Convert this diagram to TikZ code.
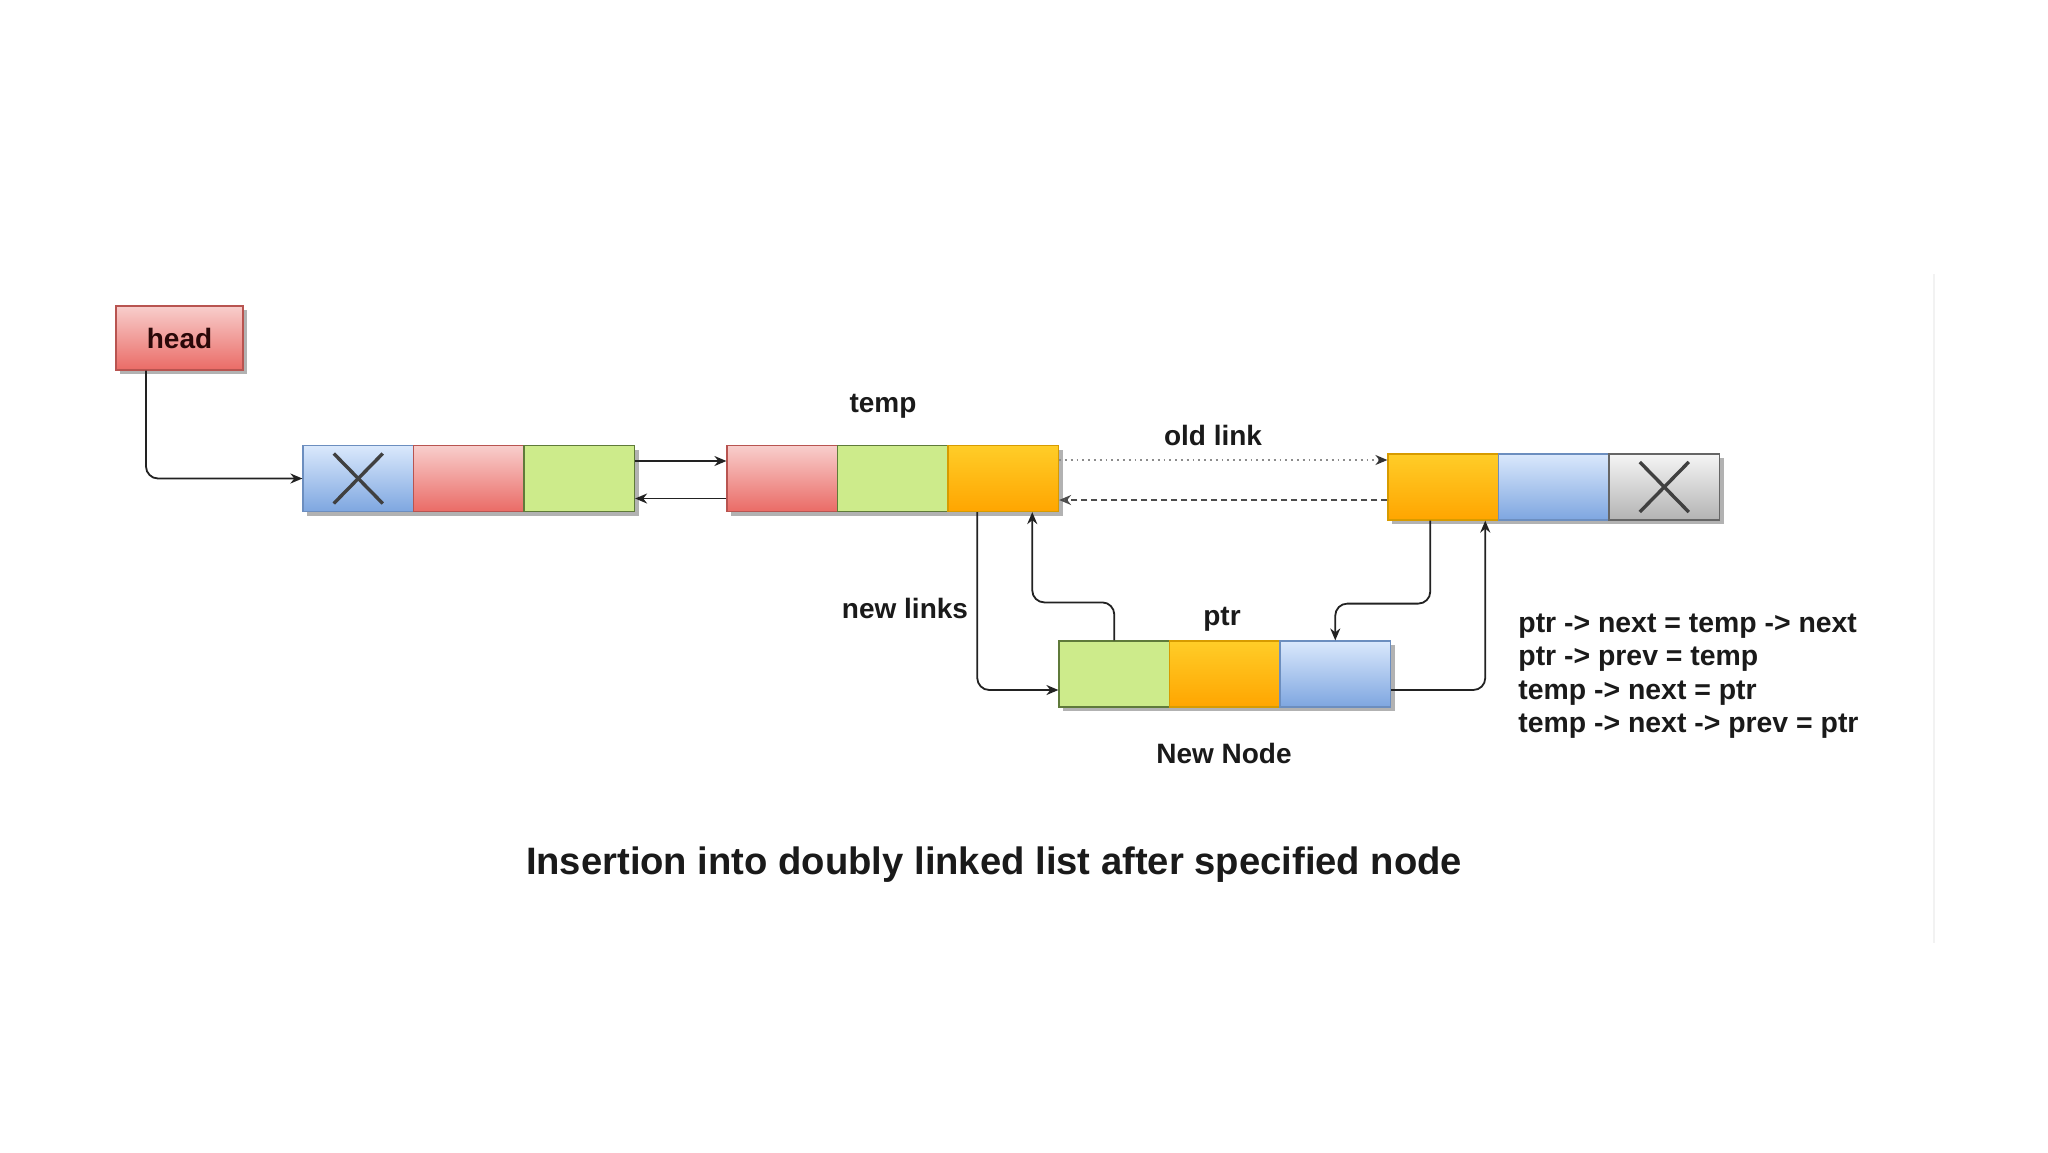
\documentclass[tikz,border=0pt]{standalone}
\usepackage{fontspec}
\setmainfont{Liberation Sans}
\usetikzlibrary{arrows.meta,shadows,calc}
\definecolor{txt}{HTML}{1A1A1A}
\definecolor{lnk}{HTML}{222222}
\definecolor{bluetop}{HTML}{DAE8FC}\definecolor{bluebot}{HTML}{7EA6E0}\definecolor{blueln}{HTML}{6C8EBF}
\definecolor{redtop}{HTML}{F8CECC}\definecolor{redbot}{HTML}{EA6B66}\definecolor{redln}{HTML}{B85450}
\definecolor{grn}{HTML}{CDEB8B}\definecolor{grnln}{HTML}{5F7A3A}
\definecolor{ortop}{HTML}{FFCD28}\definecolor{orbot}{HTML}{FFA500}\definecolor{orln}{HTML}{D79B00}
\definecolor{grtop}{HTML}{F5F5F5}\definecolor{grbot}{HTML}{B3B3B3}\definecolor{grln}{HTML}{666666}
\definecolor{headtxt}{HTML}{2A0808}
\tikzset{
  cell/.style={minimum width=55.25pt, minimum height=33pt, inner sep=0pt, draw, line width=0.6pt,
    drop shadow={shadow xshift=2pt, shadow yshift=-2pt, opacity=0.3, fill=black}},
  bluecell/.style={cell, draw=blueln, top color=bluetop, bottom color=bluebot},
  redcell/.style={cell, draw=redln, top color=redtop, bottom color=redbot},
  grncell/.style={cell, draw=grnln, fill=grn},
  orcell/.style={cell, draw=orln, top color=ortop, bottom color=orbot},
  grcell/.style={cell, draw=grln, top color=grtop, bottom color=grbot},
  xmark/.style={line width=1.7pt, draw=black!75},
  lbl/.style={font=\bfseries\fontsize{14}{16.5}\selectfont, text=txt, inner sep=0pt},
  link/.style={draw=lnk, line width=0.9pt, rounded corners=6pt, -{Stealth[length=6pt,width=5pt]}},
}
\begin{document}
\begin{tikzpicture}[x=0.5pt,y=-0.5pt]
\useasboundingbox (0,0) rectangle (2048,1152);
\fill[white] (0,0) rectangle (2048,1152);
\draw[black!5, line width=1pt] (1934,274) -- (1934,943);

% head
\node[redcell, minimum width=63.5pt, minimum height=32pt, font=\bfseries\fontsize{14}{16}\selectfont, text=headtxt] (head) at (179.5,338) {head};

% list A
\node[bluecell] (a0) at (358.25,478.5) {};
\node[redcell] (a1) at (468.75,478.5) {};
\node[grncell] (a2) at (579.25,478.5) {};
% list B (temp)
\node[redcell] (b0) at (782.25,478.5) {};
\node[grncell] (b1) at (892.75,478.5) {};
\node[orcell] (b2) at (1003.25,478.5) {};
% list C
\node[orcell] (c0) at (1443.25,487) {};
\node[bluecell] (c1) at (1553.75,487) {};
\node[grcell] (c2) at (1664.25,487) {};
% new node D (ptr)
\node[grncell] (d0) at (1114.25,674) {};
\node[orcell] (d1) at (1224.75,674) {};
\node[bluecell] (d2) at (1335.25,674) {};

% X marks
\draw[xmark] ([shift={(-12.25pt,12.5pt)}]a0.center) -- ([shift={(12.25pt,-12.5pt)}]a0.center);
\draw[xmark] ([shift={(-12.25pt,-12.5pt)}]a0.center) -- ([shift={(12.25pt,12.5pt)}]a0.center);
\draw[xmark] ([shift={(-12.25pt,12.5pt)}]c2.center) -- ([shift={(12.25pt,-12.5pt)}]c2.center);
\draw[xmark] ([shift={(-12.25pt,-12.5pt)}]c2.center) -- ([shift={(12.25pt,12.5pt)}]c2.center);

% labels
\node[lbl] (ltemp) at (883,406) {temp};
\node[lbl] (lold) at (1213,435) {old link};
\node[lbl] (lnew) at (905,608) {new links};
\node[lbl] (lptr) at (1222,619) {ptr};
\node[lbl] (lnn) at (1224,753) {New Node};
\node[lbl, font=\bfseries\fontsize{14.2}{16.7}\selectfont, anchor=west, align=left] (code) at (1518,676)
  {ptr -> next = temp -> next\\ptr -> prev = temp\\temp -> next = ptr\\temp -> next -> prev = ptr};
\node[font=\bfseries\fontsize{19.1}{23}\selectfont, text=txt, inner sep=0pt] (title) at (994,865)
  {Insertion into doubly linked list after specified node};

% connectors
\draw[link] ([xshift=-16.75pt]head.south) |- (a0.west);
\draw[link] ([yshift=8.75pt]a2.east) -- ([yshift=8.75pt]b0.west);
\draw[link] ([yshift=-10pt]b0.west) -- ([yshift=-10pt]a2.east);
\draw[draw=black!45, line width=0.9pt, dotted, -{Stealth[length=6pt,width=5pt,black!80]}]
  ([yshift=9.25pt]b2.east) -- ([yshift=9.25pt]b2.east -| c0.west);
\draw[draw=black!70, line width=0.9pt, dashed, dash pattern=on 3pt off 2pt, -{Stealth[length=6pt,width=5pt,open]}]
  ([yshift=-10.75pt]b2.east -| c0.west) -- ([yshift=-10.75pt]b2.east);
\draw[link] ([xshift=-13pt]b2.south) |- ([yshift=-8pt]d0.west);
\draw[link] (d0.north) -- ++(0,-38) -| ([xshift=14.5pt]b2.south);
\draw[link] ([xshift=-6.5pt]c0.south) -- ++(0,83) -| (d2.north);
\draw[link] ([yshift=-8pt]d2.east) -| ([xshift=21pt]c0.south);
\end{tikzpicture}
\end{document}
